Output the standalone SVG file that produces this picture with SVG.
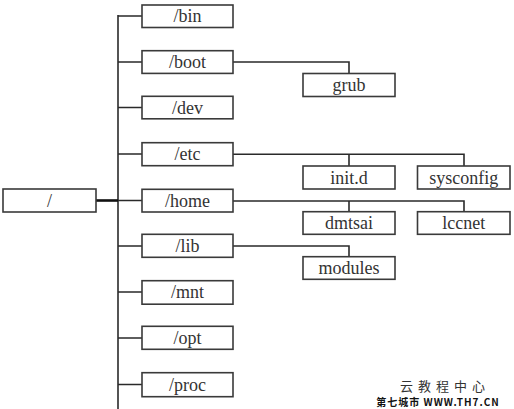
<svg xmlns="http://www.w3.org/2000/svg" width="514" height="409" viewBox="0 0 514 409">
<style>
.box{fill:#fff;stroke:#3a3a3a;stroke-width:1.6}
.lbl{font-family:'Liberation Serif','Times New Roman',serif;font-size:18px;fill:#333;text-anchor:middle}
.ln{fill:none;stroke:#2a2a2a;stroke-width:1.6}
</style>
<rect width="514" height="409" fill="#fff"/>
<g id="connectors">
<path class="ln" d="M118 15V409"/>
<path d="M96 200.5H118" fill="none" stroke="#111" stroke-width="2.6"/>
<path class="ln" d="M118 16H142M118 62H142M118 107.5H142M118 154H142M118 200.5H142M118 246H142M118 292H142M118 338H142M118 384.5H142"/>
<path class="ln" d="M233 62H349V73.5"/>
<path class="ln" d="M233 154.3H464V166M349 154.3V166"/>
<path class="ln" d="M233 201H464V212M349 201V212"/>
<path class="ln" d="M233 246H349V257"/>
</g>
<g id="root"><rect class="box" x="3" y="189" width="93" height="23"/><text class="lbl" x="49.5" y="206.5">/</text></g>
<g id="bin"><rect class="box" x="142" y="5" width="91" height="22.5"/><text class="lbl" x="187.5" y="22">/bin</text></g>
<g id="boot"><rect class="box" x="142" y="50.7" width="91" height="22.7"/><text class="lbl" x="187.5" y="68">/boot</text></g>
<g id="dev"><rect class="box" x="142" y="96.3" width="91" height="22.5"/><text class="lbl" x="187.5" y="113.5">/dev</text></g>
<g id="etc"><rect class="box" x="142" y="142.7" width="91" height="23"/><text class="lbl" x="187.5" y="160">/etc</text></g>
<g id="home"><rect class="box" x="142" y="189.3" width="91" height="22.7"/><text class="lbl" x="187.5" y="206.5">/home</text></g>
<g id="lib"><rect class="box" x="142" y="234.3" width="91" height="23"/><text class="lbl" x="187.5" y="252">/lib</text></g>
<g id="mnt"><rect class="box" x="142" y="280.7" width="91" height="23.5"/><text class="lbl" x="187.5" y="298">/mnt</text></g>
<g id="opt"><rect class="box" x="142" y="326.3" width="91" height="23"/><text class="lbl" x="187.5" y="344">/opt</text></g>
<g id="proc"><rect class="box" x="142" y="372.7" width="91" height="24"/><text class="lbl" x="187.5" y="390.5">/proc</text></g>
<g id="grub"><rect class="box" x="303" y="73.5" width="92" height="23"/><text class="lbl" x="349" y="91">grub</text></g>
<g id="initd"><rect class="box" x="303" y="166" width="92" height="23"/><text class="lbl" x="349" y="183.5">init.d</text></g>
<g id="sysconfig"><rect class="box" x="417.5" y="166" width="92.5" height="23"/><text class="lbl" x="463.7" y="183.5">sysconfig</text></g>
<g id="dmtsai"><rect class="box" x="303" y="211.7" width="92" height="22.6"/><text class="lbl" x="349" y="229">dmtsai</text></g>
<g id="lccnet"><rect class="box" x="417.5" y="211.7" width="92.5" height="22.6"/><text class="lbl" x="463.7" y="229">lccnet</text></g>
<g id="modules"><rect class="box" x="303" y="256.7" width="92" height="22.6"/><text class="lbl" x="349" y="274">modules</text></g>
<g id="watermark">
<text x="445" y="391" font-family="'Noto Sans CJK SC',sans-serif" font-size="13" fill="#333" text-anchor="middle" letter-spacing="5">云教程中心</text>
<text x="438" y="406" font-family="'Noto Sans CJK SC',sans-serif" font-size="10" font-weight="bold" fill="#111" text-anchor="middle" letter-spacing="1">第七城市   WWW.TH7.CN</text>
</g>
</svg>
